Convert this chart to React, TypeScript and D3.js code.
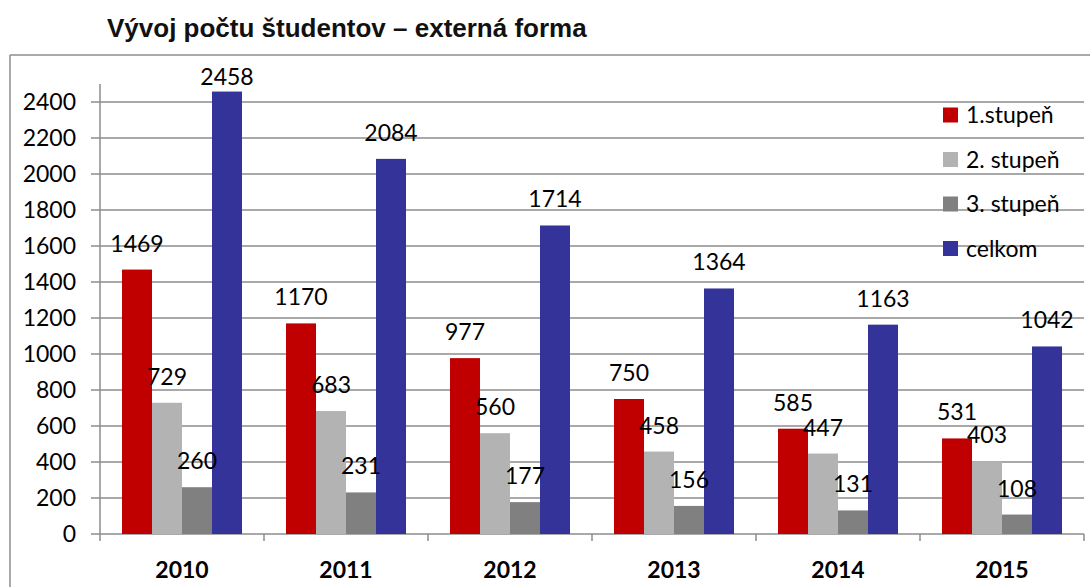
import * as d3 from "d3";

const years = ["2010", "2011", "2012", "2013", "2014", "2015"];
const seriesNames = ["1.stupeň", "2. stupeň", "3. stupeň", "celkom"];
const stupen1 = [1469, 1170, 977, 750, 585, 531];
const stupen2 = [729, 683, 560, 458, 447, 403];
const stupen3 = [260, 231, 177, 156, 131, 108];
const celkom = [2458, 2084, 1714, 1364, 1163, 1042];
const yTicks = [0, 200, 400, 600, 800, 1000, 1200, 1400, 1600, 1800, 2000, 2200, 2400];

const seriesValues = [stupen1, stupen2, stupen3, celkom];
const colors = ["#C00000", "#B3B3B3", "#808080", "#333399"];

const W = 1090;
const H = 587;
const left = 100;
const right = 1084;
const bottom = 534;
const top = 84;
const gridColor = "#8c8c8c";
const numFont = "Lato, 'Open Sans', sans-serif";

export default function App() {
  const x = d3.scaleBand<string>().domain(years).range([left, right]).padding(0);
  const inner = d3
    .scaleBand<string>()
    .domain(seriesNames)
    .range([22, x.bandwidth() - 22])
    .padding(0);
  const y = d3.scaleLinear().domain([0, 2500]).range([bottom, top]);

  return (
    <svg
      width={W}
      height={H}
      style={{ position: "absolute", left: 0, top: 0, background: "#fff" }}
    >
      <rect x={0} y={0} width={W} height={H} fill="#fff" />
      {/* title */}
      <text
        x={107}
        y={37}
        fontFamily="'Liberation Sans', Arial, sans-serif"
        fontWeight="bold"
        fontSize={26}
        fill="#111"
      >
        Vývoj počtu študentov – externá forma
      </text>
      {/* outer frame: only top and left edges fall inside the picture */}
      <line x1={10} x2={W} y1={55} y2={55} stroke={gridColor} strokeWidth={1.5} />
      <line x1={10} x2={10} y1={55} y2={H} stroke={gridColor} strokeWidth={1.5} />

      {/* gridlines */}
      {yTicks.map((t) => (
        <g key={t}>
          <line x1={91} x2={right} y1={y(t)} y2={y(t)} stroke={gridColor} strokeWidth={1.5} />
          <text
            x={76}
            y={y(t)}
            dy="0.35em"
            textAnchor="end"
            fontFamily={numFont}
            fontSize={23}
            fill="#000"
          >
            {t}
          </text>
        </g>
      ))}
      {/* y axis */}
      <line x1={left} x2={left} y1={top} y2={541} stroke={gridColor} strokeWidth={1.5} />
      {/* category ticks */}
      {years.map((yr) => (
        <line
          key={"t" + yr}
          x1={(x(yr) as number) + x.bandwidth()}
          x2={(x(yr) as number) + x.bandwidth()}
          y1={bottom}
          y2={541}
          stroke={gridColor}
          strokeWidth={1.5}
        />
      ))}

      {/* bars */}
      {years.map((yr, i) => (
        <g key={yr} transform={`translate(${x(yr)},0)`}>
          {seriesNames.map((s, j) => {
            const v = seriesValues[j][i];
            return (
              <rect
                key={s}
                x={inner(s)}
                y={y(v)}
                width={inner.bandwidth()}
                height={bottom - y(v)}
                fill={colors[j]}
              />
            );
          })}
          {seriesNames.map((s, j) => {
            const v = seriesValues[j][i];
            return (
              <text
                key={"l" + s}
                x={(inner(s) as number) + inner.bandwidth() / 2}
                y={Math.max(y(v) - 18, 85)}
                textAnchor="middle"
                fontFamily={numFont}
                fontSize={23}
                fill="#000"
              >
                {v}
              </text>
            );
          })}
          <text
            x={x.bandwidth() / 2}
            y={578}
            textAnchor="middle"
            fontFamily={numFont}
            fontWeight="bold"
            fontSize={23}
            fill="#000"
          >
            {yr}
          </text>
        </g>
      ))}

      {/* legend */}
      {seriesNames.map((s, j) => {
        const cy = 115 + j * 44.5;
        return (
          <g key={"lg" + s}>
            <rect x={943} y={cy - 7.5} width={15} height={15} fill={colors[j]} />
            <text x={966} y={cy} dy="0.35em" fontFamily={numFont} fontSize={23} fill="#000">
              {s}
            </text>
          </g>
        );
      })}
    </svg>
  );
}
